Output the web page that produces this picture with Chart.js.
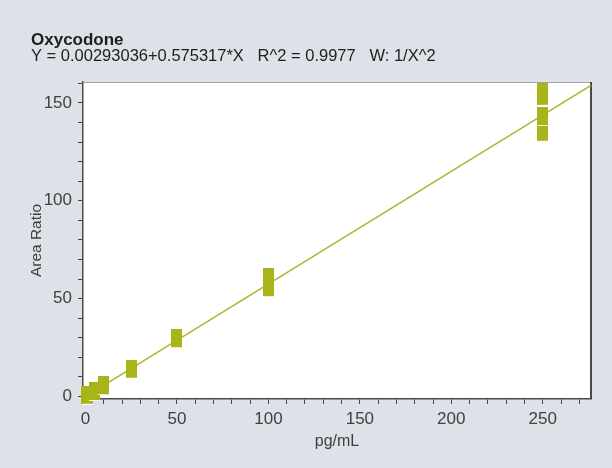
<!DOCTYPE html>
<html>
<head>
<meta charset="utf-8">
<script src="https://cdn.jsdelivr.net/npm/chart.js@4"></script>
<style>
  html, body { margin: 0; padding: 0; background: #dde1e8; }
  #wrap { width: 612px; height: 468px; }
</style>
</head>
<body>
<div id="wrap"><canvas id="cal" width="612" height="468"></canvas></div>
<script>
const titleText = 'Oxycodone';
const subtitleText = 'Y = 0.00293036+0.575317*X   R^2 = 0.9977   W: 1/X^2';

// calibration points (pg/mL vs area ratio)
const concX  = [0.5, 1, 5, 10, 25, 50, 100, 100, 250, 250, 250, 250];
const ratioY = [0.3, 0.6, 2.5, 5.5, 13.9, 29.5, 60.6, 55.6, 135, 143, 155.5, 153.4];

// fitted line end points
const fitX = [-1.4, 276.4];
const fitY = [-0.8, 159.0];

const xRange = [-1.4, 276.4];
const yRange = [-1.3, 160.7];

const FONT = '"Liberation Sans", Arial, Helvetica, sans-serif';
const markColor = '#a8b41a';
const lineColor = '#abb52e';
const inkColor = '#404040';

function makeMarker(w, h, color) {
  const c = document.createElement('canvas');
  c.width = w; c.height = h + 1;
  const g = c.getContext('2d');
  g.fillStyle = color;
  g.fillRect(0, 0, w, h);
  g.fillStyle = '#ffffff';
  g.fillRect(0, h, w, 1);
  return c;
}
const marker = makeMarker(11, 18, markColor);

function tensTicks(s) {
  const t = [];
  for (let v = Math.ceil(s.min / 10) * 10 + 0; v <= s.max; v += 10) t.push({ value: v });
  s.ticks = t;
}

const framePlugin = {
  id: 'frame',
  beforeDraw(chart) {
    const { ctx, chartArea: a } = chart;
    ctx.save();
    ctx.fillStyle = '#ffffff';
    ctx.fillRect(a.left, a.top, a.right - a.left, a.bottom - a.top);
    ctx.restore();
  },
  beforeDatasetsDraw(chart) {
    const { ctx, chartArea: a } = chart;
    ctx.save();
    ctx.strokeStyle = '#a0a4aa';
    ctx.lineWidth = 1;
    ctx.beginPath();
    ctx.moveTo(a.left, a.top + 0.5);
    ctx.lineTo(a.right, a.top + 0.5);
    ctx.stroke();
    ctx.strokeStyle = '#4a4a4a';
    ctx.lineWidth = 2;
    ctx.beginPath();
    ctx.moveTo(a.right, a.top);
    ctx.lineTo(a.right, a.bottom);
    ctx.stroke();
    ctx.restore();
  },
  afterDraw(chart) {
    const ctx = chart.ctx;
    ctx.save();
    ctx.fillStyle = '#1e1e1e';
    ctx.textBaseline = 'alphabetic';
    ctx.font = 'bold 17px ' + FONT;
    ctx.fillText(titleText, 31, 45);
    ctx.font = '16.5px ' + FONT;
    ctx.fillText(subtitleText, 31, 61);
    ctx.restore();
  }
};

new Chart(document.getElementById('cal'), {
  type: 'scatter',
  data: {
    datasets: [
      {
        type: 'scatter',
        data: concX.map((x, i) => ({ x, y: ratioY[i] })),
        pointStyle: marker,
        pointRadius: 9,
        clip: false,
        order: 1
      },
      {
        type: 'line',
        data: fitX.map((x, i) => ({ x, y: fitY[i] })),
        borderColor: lineColor,
        borderWidth: 1.5,
        pointRadius: 0,
        fill: false,
        order: 2
      }
    ]
  },
  options: {
    responsive: false,
    animation: false,
    devicePixelRatio: 1,
    layout: { padding: { left: 0, right: 21, top: 82, bottom: 0 } },
    plugins: { legend: { display: false }, tooltip: { enabled: false } },
    scales: {
      x: {
        type: 'linear',
        min: xRange[0], max: xRange[1],
        afterFit: s => { s.height = 69; },
        afterBuildTicks: tensTicks,
        ticks: {
          autoSkip: false, maxRotation: 0, padding: 5,
          color: inkColor, font: { family: FONT, size: 17 },
          callback: v => (v % 50 === 0 ? v : '')
        },
        grid: { drawOnChartArea: false, drawTicks: true, tickLength: 5, color: '#444' },
        border: { color: '#4a4a4a', width: 1.5 },
        title: {
          display: true, text: 'pg/mL', color: inkColor,
          font: { family: FONT, size: 16 }, padding: { top: 0, bottom: 17 }
        }
      },
      y: {
        type: 'linear',
        min: yRange[0], max: yRange[1],
        afterFit: s => { s.width = 83; },
        afterBuildTicks: tensTicks,
        ticks: {
          autoSkip: false, padding: 6,
          color: inkColor, font: { family: FONT, size: 17 },
          callback: v => (v % 50 === 0 ? v : '')
        },
        grid: { drawOnChartArea: false, drawTicks: true, tickLength: 5, color: '#444' },
        border: { color: '#4a4a4a', width: 1.5 },
        title: {
          display: true, text: 'Area Ratio', color: inkColor,
          font: { family: FONT, size: 15.5 }, padding: { top: 27, bottom: 0 }
        }
      }
    }
  },
  plugins: [framePlugin]
});
</script>
</body>
</html>
